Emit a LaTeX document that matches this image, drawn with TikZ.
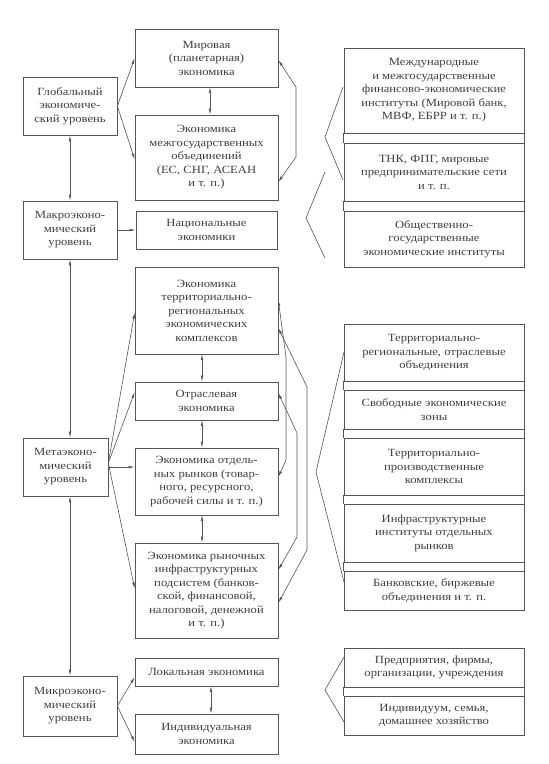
\documentclass[tikz,border=0pt]{standalone}
\usepackage{fontspec}
\setmainfont{Liberation Serif}[FakeStretch=1.15]
\usetikzlibrary{arrows.meta,calc}
\definecolor{linec}{HTML}{555555}
\definecolor{txt}{HTML}{404040}
\begin{document}
\begin{tikzpicture}[x=1pt,y=-1pt,
  box/.style={draw=linec, line width=0.6pt, text=txt, align=center, inner sep=0pt,
    font=\fontsize{11}{13.5}\selectfont},
  ln/.style={draw=linec, line width=0.6pt},
  arr/.style={ln, -{Latex[length=6pt,width=2.6pt]}},
  darr/.style={ln, {Latex[length=6pt,width=2.6pt]}-{Latex[length=6pt,width=2.6pt]}}]
\useasboundingbox[fill=white] (0,0) rectangle (549,764);

% left column
\node[box, minimum width=94pt, minimum height=58pt] (glob) at (70,106) {Глобальный\\экономиче-\\ский уровень};
\node[box, minimum width=94pt, minimum height=58pt] (macro) at (70,230) {Макроэконо-\\мический\\уровень};
\node[box, minimum width=85pt, minimum height=58pt] (meta) at (65.5,467) {Метаэконо-\\мический\\уровень};
\node[box, minimum width=94pt, minimum height=60pt] (micro) at (70,706) {Микроэконо-\\мический\\уровень};

% middle column
\node[box, minimum width=143pt, minimum height=58pt] (mir) at (206.5,58) {Мировая\\(планетарная)\\экономика};
\node[box, minimum width=143pt, minimum height=85pt] (mezh) at (206.5,157.5) {Экономика\\межгосударственных\\объединений\\(ЕС, СНГ, АСЕАН\\и т. п.)};
\node[box, minimum width=141pt, minimum height=38pt] (nac) at (206.5,230) {Национальные\\экономики};
\node[box, minimum width=143pt, minimum height=87pt] (terr) at (206.5,310.5) {Экономика\\территориально-\\региональных\\экономических\\комплексов};
\node[box, minimum width=143pt, minimum height=38pt] (otr) at (206.5,401) {Отраслевая\\экономика};
\node[box, minimum width=143pt, minimum height=67pt] (otd) at (206.5,481.5) {Экономика отдель-\\ных рынков (товар-\\ного, ресурсного,\\рабочей силы и т. п.)};
\node[box, minimum width=143pt, minimum height=95pt] (ryn) at (206.5,590.5) {Экономика рыночных\\инфраструктурных\\подсистем (банков-\\ской, финансовой,\\налоговой, денежной\\и т. п.)};
\node[box, minimum width=143pt, minimum height=28pt] (lok) at (206.5,672) {Локальная экономика};
\node[box, minimum width=143pt, minimum height=40pt] (ind) at (206.5,734) {Индивидуальная\\экономика};

% right column
\node[box, minimum width=180pt, minimum height=85pt] (r1) at (434,90.5) {Международные\\и межгосударственные\\финансово-экономические\\институты (Мировой банк,\\МВФ, ЕБРР и т. п.)};
\node[box, minimum width=180pt, minimum height=58pt] (r2) at (434,172) {ТНК, ФПГ, мировые\\предпринимательские сети\\и т. п.};
\node[box, minimum width=180pt, minimum height=56pt] (r3) at (434,239) {Общественно-\\государственные\\экономические институты};
\node[box, minimum width=180pt, minimum height=57pt] (r4) at (434,352.5) {Территориально-\\региональные, отраслевые\\объединения};
\node[box, minimum width=180pt, minimum height=39pt] (r5) at (434,409.5) {Свободные экономические\\зоны};
\node[box, minimum width=180pt, minimum height=57pt] (r6) at (434,466.5) {Территориально-\\производственные\\комплексы};
\node[box, minimum width=180pt, minimum height=58pt] (r7) at (434,533) {Инфраструктурные\\институты отдельных\\рынков};
\node[box, minimum width=180pt, minimum height=39pt] (r8) at (434,590.5) {Банковские, биржевые\\объединения и т. п.};
\node[box, minimum width=180pt, minimum height=39pt] (r9) at (434,667.5) {Предприятия, фирмы,\\организации, учреждения};
\node[box, minimum width=180pt, minimum height=39pt] (r10) at (434,715.5) {Индивидуум, семья,\\домашнее хозяйство};

% side lines between stacked boxes
\foreach \a/\b in {r1/r2,r2/r3,r4/r5,r5/r6,r6/r7,r7/r8,r9/r10}{
  \draw[ln] (\a.south west) -- (\b.north west) (\a.south east) -- (\b.north east);
}

% chevrons
\coordinate (ca1) at (343,87); \coordinate (ca2) at (325,137); \coordinate (ca3) at (343,180);
\coordinate (cb1) at (325,172); \coordinate (cb2) at (306,218); \coordinate (cb3) at (325,258);
\coordinate (cc1) at (344,352); \coordinate (cc2) at (316,472); \coordinate (cc3) at (344,582);
\coordinate (cd1) at (344,657); \coordinate (cd2) at (325,690); \coordinate (cd3) at (344,722);
\draw[ln] (ca1) -- (ca2) -- (ca3);
\draw[ln] (cb1) -- (cb2) -- (cb3);
\draw[ln] (cc1) -- (cc2) -- (cc3);
\draw[ln] (cd1) -- (cd2) -- (cd3);

% left arrows
\draw[arr] (glob.east) -- (mir.west);
\draw[arr] (glob.east) -- ($(mezh.west)+(0,2)$);
\draw[darr] (glob.south) -- (macro.north);
\draw[arr] (macro.east) -- (nac.west);
\draw[darr] (macro.south) -- (macro.south |- meta.north);
\draw[arr] ($(meta.east)+(0,-4)$) -- ($(terr.west)+(0,2)$);
\draw[arr] ($(meta.east)+(0,-4)$) -- ($(otr.west)+(0,-9)$);
\draw[arr] (meta.east) -- (meta.east -| otd.west);
\draw[arr] ($(meta.east)+(0,-4)$) -- ($(ryn.west)+(0,-2)$);
\draw[darr] (macro.south |- meta.south) -- (micro.north);
\draw[arr] (micro.east) -- ($(lok.west)+(0,5)$);
\draw[arr] (micro.east) -- ($(ind.west)+(0,8)$);

% middle vertical arrows
\draw[darr] (210,87) coordinate (m1) -- (m1 |- mezh.north);
\draw[darr] (202,354) coordinate (m2) -- (m2 |- otr.north);
\draw[darr] (202,420) coordinate (m3) -- (m3 |- otd.north);
\draw[darr] (202,515) coordinate (m4) -- (m4 |- ryn.north);
\draw[darr] (211,686) coordinate (m5) -- (m5 |- ind.north);

% right-side arrows
\draw[darr] ($(mir.east)+(0,2)$) -- (296,87) -- (296,157) -- ($(mezh.east)+(0,24.5)$);
\draw[darr] ($(terr.east)+(0,-10.5)$) -- (286,357) -- (286,460) -- ($(otd.east)+(0,-4.5)$);
\draw[darr] ($(terr.east)+(0,17.5)$) -- (307,387) -- (307,550) -- ($(ryn.east)+(0,12.5)$);
\draw[darr] ($(otr.east)+(0,-8)$) -- (297,433) -- (297,537) -- ($(ryn.east)+(0,-20.5)$);
\end{tikzpicture}
\end{document}
